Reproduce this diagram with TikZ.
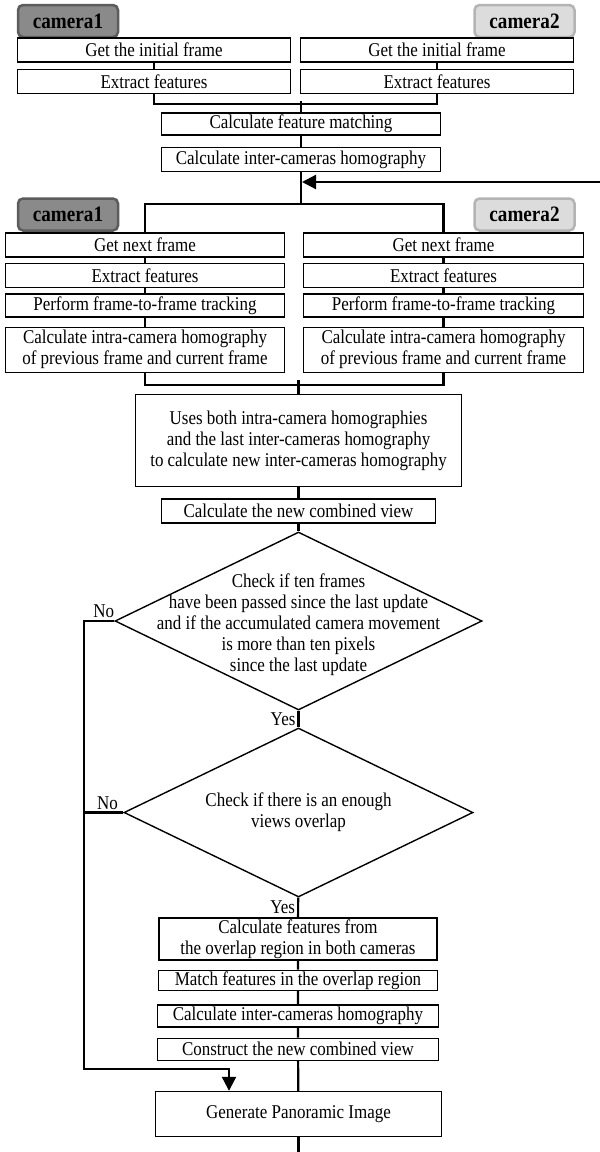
\documentclass[tikz,border=0pt]{standalone}
\usepackage{fontspec}
\setmainfont{Liberation Serif}[FakeStretch=0.87]
\usetikzlibrary{arrows.meta, positioning, shapes.geometric}

\definecolor{camdark}{HTML}{8A8A8A}
\definecolor{camdarkline}{HTML}{5C5C5C}
\definecolor{camlight}{HTML}{DCDCDC}
\definecolor{camlightline}{HTML}{B4B4B4}
\newcommand\boxfont{\fontsize{19.5}{21}\selectfont}
\newcommand\camfont{\fontsize{22}{24}\selectfont\bfseries}

\begin{document}
\begin{tikzpicture}[x=1pt, y=1pt,
every node/.append style = {inner sep=1pt},
node distance = 6pt,
 stepbox/.style = {draw, line width=1.4pt, align=center,
                   minimum height=#1, font=\boxfont},
 stepbox/.default = 24pt,
  camtab/.style = {draw, rounded corners=5pt, line width=2.5pt,
                   minimum width=100pt, minimum height=32pt, font=\camfont},
decision/.style = {diamond, draw, line width=1.4pt, inner sep=0pt},
     lnk/.style = {line width=2.2pt},
     pil/.style = {lnk, -{Triangle[length=14pt,width=14pt]}},
     lbl/.style = {font=\boxfont, inner sep=2pt}
                    ]
\useasboundingbox (0,0) rectangle (600,-1152);
%nodes
\node (cam1a) [camtab, fill=camdark, draw=camdarkline]   at (68,-21)    {camera1};
\node (cam2a) [camtab, fill=camlight, draw=camlightline] at (524.5,-21) {camera2};
\node (initL) [stepbox, minimum width=273pt] at (154,-50)  {Get the initial frame};
\node (initR) [stepbox, minimum width=273pt] at (437,-50)  {Get the initial frame};
\node (featL) [stepbox, minimum width=273pt, below=of initL] {Extract features};
\node (featR) [stepbox, minimum width=273pt, below=of initR] {Extract features};
%
\node (match) [stepbox=22pt, minimum width=279pt] at (301,-124) {Calculate feature matching};
\node (homI)  [stepbox, minimum width=279pt, below=11pt of match] {Calculate inter-cameras homography};
%
\node (cam1b) [camtab, fill=camdark, draw=camdarkline]   at (68,-214.5)    {camera1};
\node (cam2b) [camtab, fill=camlight, draw=camlightline] at (524.5,-214.5) {camera2};
\node (nextL)  [stepbox, minimum width=279pt] at (145,-245)   {Get next frame};
\node (nextR)  [stepbox, minimum width=280pt] at (443.5,-245) {Get next frame};
\node (featL2) [stepbox, minimum width=279pt, below=5pt of nextL]  {Extract features};
\node (featR2) [stepbox, minimum width=280pt, below=5pt of nextR]  {Extract features};
\node (trackL) [stepbox=23pt, minimum width=279pt, below=5pt of featL2] {Perform frame-to-frame tracking};
\node (trackR) [stepbox=23pt, minimum width=280pt, below=5pt of featR2] {Perform frame-to-frame tracking};
\node (intraL) [stepbox=45pt, minimum width=279pt, below=9pt of trackL]
               {Calculate intra-camera homography\\of previous frame and current frame};
\node (intraR) [stepbox=45pt, minimum width=280pt, below=9pt of trackR]
               {Calculate intra-camera homography\\of previous frame and current frame};
%
\node (both)  [stepbox=92pt, minimum width=326pt] at (298.5,-440.5)
              {Uses both intra-camera homographies\\and the last inter-cameras homography\\to calculate new inter-cameras homography};
\node (combo) [stepbox, minimum width=274pt, below=11pt of both] {Calculate the new combined view};
%
\node (chk1) [decision, minimum width=367pt, minimum height=178pt] at (298.5,-621) {};
\node (chk1txt) [lbl, align=center, yshift=-4pt] at (chk1)
      {Check if ten frames\\have been passed since the last update\\and if the accumulated camera movement\\is more than ten pixels\\since the last update};
\node (chk2) [decision, minimum width=349pt, minimum height=169pt] at (298.5,-812.5) {};
\node (chk2txt) [lbl, align=center] at (chk2) {Check if there is an enough\\views overlap};
%
\node (featov) [stepbox=42pt, minimum width=278pt] at (298,-939)
               {Calculate features from\\the overlap region in both cameras};
\node (matchov) [stepbox=20pt, minimum width=279pt, below=9pt of featov]  {Match features in the overlap region};
\node (homII)   [stepbox=22pt, minimum width=281pt, below=13pt of matchov] {Calculate inter-cameras homography};
\node (build)   [stepbox=22pt, minimum width=281pt, below=10pt of homII]   {Construct the new combined view};
\node (pano)    [stepbox=45pt, minimum width=286pt] at (298.5,-1114) {Generate Panoramic Image};
%
\coordinate (back)   at (600,-182);
\coordinate (nobend) at (84,-1069);
\coordinate (exit)   at (298.5,-1152);
% edges
\draw[lnk] (initL) -- (featL);
\draw[lnk] (initR) -- (featR);
\draw[lnk] (featL.south) -- ++(0,-10) -| (featR.south);
\draw[lnk] (match.north) -- ++(0,11);
\draw[lnk] (match) -- (homI);
\draw[lnk] (homI.south) -- ++(0,-32) coordinate (fork);
\draw[lnk] (nextL.north) |- (fork) -| (nextR.north);
\draw[pil, shorten >=1pt] (back) -- (back -| homI.south);
%
\draw[lnk] (nextL) -- (featL2) -- (trackL) -- (intraL);
\draw[lnk] (nextR) -- (featR2) -- (trackR) -- (intraR);
\draw[lnk] (intraL.south) -- ++(0,-12) -| (intraR.south);
\draw[lnk] (both.north) -- ++(0,14);
\draw[lnk] (both) -- (combo);
\draw[lnk] (combo) -- (chk1);
\draw[lnk] (chk1) -- node[lbl, left] {Yes} (chk2);
\draw[lnk] (chk2) -- node[lbl, left] {Yes} (featov);
\draw[lnk] (featov) -- (matchov) -- (homII) -- (build) -- (pano);
\draw[lnk] (pano) -- (exit);
%
\draw[pil] (chk1.west) -- node[lbl, above, pos=0.35] {No} (chk1.west -| nobend)
           |- (nobend) -| ([xshift=-69.5pt]pano.north);
\draw[lnk] (chk2.west) -- node[lbl, above, pos=0.4] {No} (chk2.west -| nobend);
\end{tikzpicture}
\end{document}
